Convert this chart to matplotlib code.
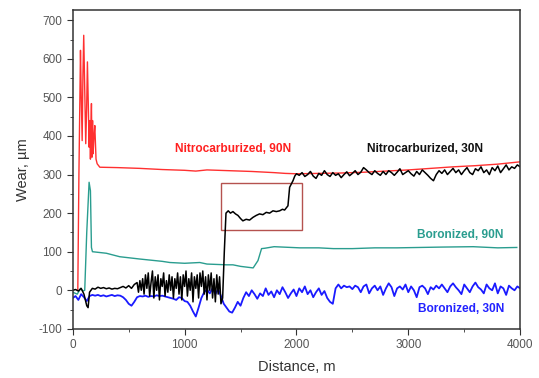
import numpy as np
import matplotlib
matplotlib.use("Agg")
import matplotlib.pyplot as plt
from matplotlib.ticker import MultipleLocator

plt.rcParams['font.family'] = ['Liberation Sans', 'DejaVu Sans']
plt.rcParams['axes.unicode_minus'] = False

# Nitrocarburized, 90N (red)
red_x = [45, 55, 69, 76, 84, 91, 98, 107, 116, 124, 131, 139, 146, 152, 158, 163,
         167, 172, 177, 182, 190, 197, 208, 218, 242, 400, 600, 800, 1000, 1100,
         1200, 1400, 1600, 1800, 1900, 2000, 2200, 2400, 2600, 2800, 3000, 3200,
         3400, 3600, 3800, 4000]
red_y = [0, 300, 622, 500, 388, 560, 661, 520, 380, 470, 592, 480, 371, 440, 340, 430,
         484, 345, 440, 354, 400, 427, 340, 328, 319, 318, 316, 313, 311, 309,
         312, 310, 308, 305, 303, 302, 303, 304, 306, 309, 312, 316,
         320, 323, 327, 333]

# Boronized, 90N (teal)
teal_x = [0, 40, 70, 90, 107, 125, 146, 158, 167, 176, 300, 420, 600, 800, 868,
          1000, 1136, 1200, 1375, 1432, 1500, 1584, 1613, 1656, 1688, 1718, 1800,
          2031, 2200, 2330, 2500, 2700, 2899, 3100, 3300, 3580, 3800, 3970]
teal_y = [-5, -10, 5, -2, 0, 150, 280, 258, 111, 100, 96, 87, 81, 75, 72,
          70, 72, 68, 66, 66, 62, 59, 58, 77, 108, 109, 113,
          110, 110, 108, 108, 110, 110, 111, 112, 113, 110, 111]

# Nitrocarburized, 30N (black)
black_x_start = [0, 25, 50, 75, 100, 125, 137, 150, 175, 200, 225, 250, 275, 300, 325,
                 350, 375, 400, 425, 450, 475, 500, 525, 550]
black_y_start = [0, 2, -2, 5, -10, -40, -45, -5, 5, 3, 8, 5, 7, 4, 6,
                 3, 5, 4, 7, 10, 6, 12, 5, 15]
black_y_noisy = [20, -5, 25, 0, 30, -10, 40, 5, 45, -15, 20, 50, -20, 35, 0, 40,
                 -25, 30, 10, 45, -15, 25, -5, 40, 0, 35, -20, 30, 5, 45, -10, 35,
                 -25, 40, 10, 50, -15, 30, 0, 45, -30, 35, 5, 40, -20, 45, 10, 50,
                 -10, 35, -25, 40, 0, 45, -20, 30, -30, 40, -10, 35, -35]
black_x_step = [1340, 1355, 1370, 1390, 1410, 1432, 1455, 1477, 1500, 1521, 1550,
                1581, 1611, 1640, 1670, 1700, 1730, 1760, 1790, 1820, 1850, 1875,
                1894, 1924, 1939, 1969, 1985]
black_y_step = [-20, 100, 200, 206, 200, 204, 198, 194, 186, 180, 184,
                182, 189, 194, 198, 196, 202, 200, 206, 204, 206, 210,
                208, 219, 267, 284, 296]
black_y_end = [302, 298, 305, 295, 300, 308, 296, 290, 303, 298, 310, 300, 295, 305,
               298, 302, 292, 300, 307, 297, 303, 310, 300, 306, 318, 312, 305, 300,
               310, 303, 298, 308, 300, 310, 305, 298, 306, 315, 300, 305, 310, 302,
               296, 308, 300, 312, 305, 298, 290, 284, 300, 310, 303, 312, 300, 308,
               316, 305, 312, 300, 310, 318, 305, 300, 315, 310, 320, 305, 312, 300,
               318, 310, 322, 305, 315, 325, 312, 320, 316, 325, 320]

# Boronized, 30N (blue), sampled every 25 m
blue_y = [-20, -15, -25, -10, -18, -28, -15, -12, -14, -12, -15, -13, -16, -14, -12,
          -15, -13, -14, -18, -25, -35, -40, -30, -18, -15, -16, -14, -17, -15, -16,
          -13, -15, -14, -16, -18, -20, -22, -25, -18, -20, -28, -30, -40, -55, -68,
          -45, -20, -5, 2, -8, 5, -10, 3, -15, -35, -45, -55, -58, -45, -30,
          -40, -20, -5, -15, 0, -10, -22, -8, -15, 5, -12, -3, -18, 0, -10,
          8, -5, -20, -8, 2, -15, 5, -5, 10, -10, 0, -18, -5, 5, -12,
          -2, -20, -30, -35, 5, 15, 5, 12, 8, 10, 3, 12, 8, -5, 10,
          15, -8, 5, 12, 0, 10, -12, 5, 18, 8, -15, 5, 10, 2, 15,
          -5, 10, 0, -18, 8, 12, 5, -10, 8, 2, 12, 5, 15, 5, -5,
          10, 18, 8, 0, -10, 15, 5, -5, 10, 20, 8, 2, -8, 15, 5,
          0, 18, -8, 10, 5, -12, 12, 5, 0, 10, 5]

black_x = np.concatenate([black_x_start,
                          np.linspace(575, 1325, len(black_y_noisy)),
                          black_x_step,
                          np.linspace(2000, 4000, len(black_y_end))])
black_y = np.concatenate([black_y_start, black_y_noisy, black_y_step, black_y_end])
blue_x = np.linspace(0, 4000, len(blue_y))

fig, ax = plt.subplots(figsize=(5.39, 3.78), dpi=100)
fig.subplots_adjust(left=0.135, right=0.965, top=0.974, bottom=0.13)

ax.plot(teal_x, teal_y, color='#2a9d8f', lw=1.0)
ax.plot(blue_x, blue_y, color='#1a1aff', lw=1.3)
ax.plot(red_x, red_y, color='#ff3030', lw=1.0)
ax.plot(black_x, black_y, color='black', lw=1.1)

# highlighted region
ax.add_patch(plt.Rectangle((1324, 157), 725, 120, fill=False,
                           edgecolor='#b5524f', lw=1.0))

lab = dict(fontsize=8.6, fontweight='bold', va='center')
ax.text(913, 367, 'Nitrocarburized, 90N', color='#ff2020', **lab)
ax.text(2631, 367, 'Nitrocarburized, 30N', color='#111111', **lab)
ax.text(3078, 144, 'Boronized, 90N', color='#2a9d8f', **lab)
ax.text(3087, -48, 'Boronized, 30N', color='#2222ff', **lab)

ax.set_xlim(0, 4000)
ax.set_ylim(-100, 727)
ax.xaxis.set_major_locator(MultipleLocator(1000))
ax.xaxis.set_minor_locator(MultipleLocator(500))
ax.yaxis.set_major_locator(MultipleLocator(100))
ax.yaxis.set_minor_locator(MultipleLocator(50))
ax.tick_params(which='both', direction='out', colors='#333333',
               labelcolor='#555555', labelsize=8.5)
ax.tick_params(which='major', length=4)
ax.tick_params(which='minor', length=2)
for s in ax.spines.values():
    s.set_color('#333333')
    s.set_linewidth(1.1)

ax.set_xlabel('Distance, m', fontsize=10.5, color='#333333', labelpad=6)
ax.set_ylabel('Wear, µm', fontsize=10.5, color='#333333', labelpad=6)

fig.savefig('out.png', dpi=100)
